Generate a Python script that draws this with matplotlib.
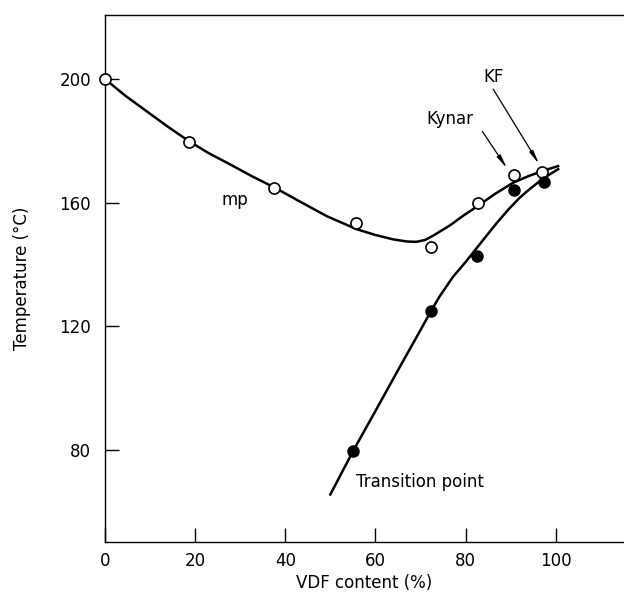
import numpy as np
import matplotlib
matplotlib.use("Agg")
import matplotlib.pyplot as plt

# Open circles: melting point (mp)
mpX = [0, 18.7, 37.6, 55.7, 72.3, 82.8, 90.7, 97.0]
mpY = [200, 179.7, 164.6, 153.5, 145.6, 159.8, 168.8, 170.0]

# Filled circles: transition point
trX = [55.1, 72.3, 82.4, 90.7, 97.3]
trY = [79.8, 124.9, 142.6, 164.2, 166.5]

# Hand drawn curves
mpCurveX = [0, 4.5, 9.2, 14, 18.7, 23, 27.7, 32.5, 37.7, 42.9, 49.2, 55.8, 60, 63.9,
            67, 69.1, 71, 72.8, 76.5, 79.5, 82.8, 86.5, 90.5, 94, 97.2, 100.5]
mpCurveY = [200, 194.6, 189.6, 184.5, 179.8, 176, 172.4, 168.6, 164.8, 160.6, 155.6, 151.4,
            149.5, 148.1, 147.4, 147.3, 147.9, 149.3, 152.6, 155.8, 159.0, 162.8, 166.4,
            168.6, 170.3, 171.8]
trCurveX = [50, 55.1, 60, 65, 70, 72.3, 74.2, 77.2, 80, 82.4, 84.8, 86.9, 89.5, 92, 94.3,
            96.5, 98.5, 100.5]
trCurveY = [65.6, 79.8, 92.6, 105.8, 118.8, 124.9, 129.6, 136.0, 140.8, 145.2, 149.6,
            153.4, 157.8, 161.6, 164.5, 167.0, 169.0, 170.8]

fig = plt.figure(figsize=(6.24, 5.95), dpi=100)
ax = fig.add_axes([0.168, 0.089, 0.832, 0.886])

ax.plot(mpCurveX, mpCurveY, color='black', lw=1.8, zorder=2)
ax.plot(trCurveX, trCurveY, color='black', lw=1.8, zorder=2)
ax.plot(mpX, mpY, 'o', ms=8, mfc='white', mec='black', mew=1.2, zorder=3, clip_on=False)
ax.plot(trX, trY, 'o', ms=8, mfc='black', mec='black', zorder=3)

# Labels and arrows
ax.text(28.8, 160.7, 'mp', fontsize=12, ha='center', va='center')
ax.text(55.7, 69.6, 'Transition point', fontsize=12, ha='left', va='center')
ax.text(76.4, 187.0, 'Kynar', fontsize=12, ha='center', va='center')
ax.text(86.1, 200.6, 'KF', fontsize=12, ha='center', va='center')
arrowStyle = dict(arrowstyle='-|>,head_length=0.8,head_width=0.12', color='black', lw=0.9,
                  shrinkA=0, shrinkB=0)
ax.annotate('', xy=(89.2, 171.0), xytext=(83.7, 183.0), arrowprops=arrowStyle)
ax.annotate('', xy=(96.3, 172.4), xytext=(86.1, 196.7), arrowprops=arrowStyle)

ax.set_xlim(0, 115.1)
ax.set_ylim(50.2, 220.7)
ax.set_xticks([0, 20, 40, 60, 80, 100])
ax.set_yticks([80, 120, 160, 200])
ax.tick_params(axis='x', direction='in', length=10, width=1, pad=7, labelsize=12)
ax.tick_params(axis='y', direction='in', length=10, width=1, pad=10, labelsize=12)
ax.spines['right'].set_visible(False)
for s in ['left', 'bottom', 'top']:
    ax.spines[s].set_linewidth(1)

ax.set_xlabel('VDF content (%)', fontsize=12, labelpad=3)
ax.set_ylabel('Temperature (°C)', fontsize=12, labelpad=20)

fig.savefig('out.png', dpi=100)
